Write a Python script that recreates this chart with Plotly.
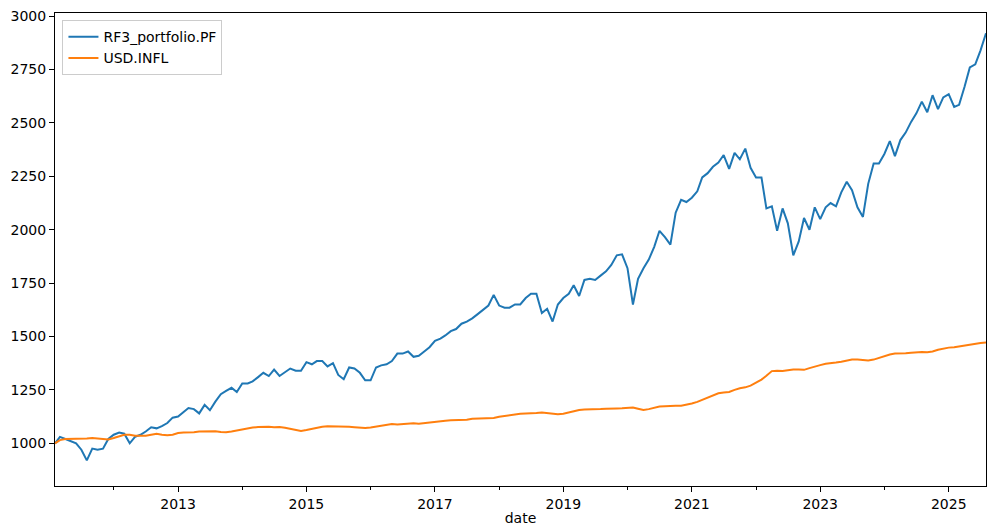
import pandas as pd
import plotly.graph_objects as go

dates = pd.date_range("2011-02-01", "2025-08-01", freq="MS")

portfolio = [
 1000, 1030, 1020, 1010, 1000, 970, 920, 975, 970, 975, 1020,
 1040, 1050, 1045, 1000, 1030, 1040, 1055, 1075, 1070, 1080, 1095, 1120,
 1125, 1145, 1165, 1160, 1140, 1180, 1155, 1195, 1230, 1245, 1260, 1240,
 1280, 1280, 1290, 1310, 1330, 1315, 1345, 1315, 1335, 1350, 1340, 1340,
 1380, 1370, 1385, 1385, 1360, 1375, 1320, 1300, 1355, 1350, 1330, 1295,
 1295, 1355, 1365, 1370, 1385, 1420, 1420, 1430, 1405, 1410, 1430, 1450,
 1480, 1490, 1505, 1525, 1535, 1560, 1570, 1585, 1605, 1625, 1645, 1695,
 1645, 1635, 1635, 1650, 1650, 1680, 1700, 1700, 1610, 1630, 1570, 1650,
 1680, 1700, 1740, 1690, 1765, 1770, 1765, 1785, 1805, 1835, 1880, 1885,
 1820, 1650, 1770, 1820, 1860, 1920, 1995, 1965, 1930, 2080, 2140, 2130,
 2150, 2180, 2245, 2265, 2295, 2315, 2350, 2285, 2360, 2330, 2380, 2290,
 2245, 2245, 2100, 2110, 1995, 2100, 2030, 1880, 1945, 2055, 2000, 2105,
 2050, 2105, 2125, 2110, 2175, 2225, 2185, 2105, 2060, 2215, 2310, 2310,
 2355, 2415, 2345, 2420, 2455, 2505, 2545, 2600, 2550, 2630, 2565, 2620,
 2635, 2575, 2585, 2670, 2760, 2775, 2840, 2920]

inflation = [
 1000, 1015, 1020, 1020, 1020, 1022, 1023, 1025, 1022, 1020, 1018,
 1025, 1032, 1040, 1040, 1035, 1035, 1035, 1040, 1045, 1040, 1038, 1040,
 1048, 1050, 1050, 1052, 1055, 1056, 1058, 1056, 1053, 1052, 1055, 1060,
 1066, 1070, 1074, 1076, 1078, 1077, 1075, 1076, 1073, 1068, 1062, 1058,
 1062, 1068, 1072, 1077, 1080, 1080, 1078, 1077, 1077, 1075, 1072, 1072,
 1074, 1078, 1082, 1088, 1090, 1088, 1090, 1092, 1094, 1092, 1095, 1100,
 1102, 1104, 1106, 1108, 1108, 1108, 1110, 1115, 1116, 1116, 1116, 1118,
 1124, 1128, 1132, 1136, 1138, 1140, 1140, 1142, 1144, 1142, 1137, 1136,
 1138, 1144, 1150, 1156, 1158, 1158, 1160, 1160, 1162, 1164, 1163, 1164,
 1166, 1168, 1162, 1156, 1160, 1168, 1172, 1174, 1176, 1176, 1176, 1180,
 1186, 1194, 1204, 1214, 1226, 1234, 1238, 1240, 1250, 1258, 1262, 1270,
 1284, 1298, 1316, 1338, 1340, 1338, 1342, 1346, 1346, 1344, 1352, 1360,
 1366, 1372, 1374, 1378, 1382, 1388, 1392, 1392, 1390, 1388, 1392, 1400,
 1410, 1416, 1420, 1420, 1422, 1424, 1426, 1428, 1426, 1430, 1438, 1444,
 1448, 1450, 1454, 1458, 1462, 1466, 1470, 1472]

tick_years = ["2013", "2015", "2017", "2019", "2021", "2023", "2025"]

fig = go.Figure()
fig.add_trace(go.Scatter(x=dates, y=portfolio, mode="lines", name="RF3_portfolio.PF",
                         line=dict(color="#1f77b4", width=2)))
fig.add_trace(go.Scatter(x=dates, y=inflation, mode="lines", name="USD.INFL",
                         line=dict(color="#ff7f0e", width=2)))

fig.update_layout(
    width=994, height=528,
    margin=dict(l=55, r=8, t=13, b=42),
    paper_bgcolor="white", plot_bgcolor="white",
    font=dict(family="DejaVu Sans", size=13, color="black"),
    showlegend=True,
    legend=dict(x=0.008, y=0.985, xanchor="left", yanchor="top",
                bordercolor="#cccccc", borderwidth=1, bgcolor="rgba(255,255,255,0.8)",
                font=dict(size=14)),
    xaxis=dict(range=[dates[0], dates[-1]], showgrid=False, zeroline=False, automargin=False,
               showline=True, linecolor="black", mirror=True, linewidth=1,
               ticks="outside", ticklen=5, tickcolor="black", tickfont=dict(size=14),
               tickvals=[pd.Timestamp(y + "-01-01") for y in tick_years],
               ticktext=tick_years,
               minor=dict(ticks="outside", ticklen=3, tickcolor="black",
                          tickvals=[pd.Timestamp(f"{y}-01-01") for y in range(2012, 2026, 2)]),
               title=dict(text="date", standoff=2, font=dict(size=14))),
    yaxis=dict(range=[800, 3015], showgrid=False, zeroline=False, automargin=False,
               showline=True, linecolor="black", mirror=True, linewidth=1,
               ticks="outside", ticklen=5, tickcolor="black", tickfont=dict(size=14),
               tickvals=list(range(1000, 3001, 250))),
)

fig.write_html("out.html", config={"displayModeBar": False})
with open("out.html", encoding="utf-8") as f:
    html = f.read()
html = html.replace("<head>", "<head><style>html,body{margin:0;padding:0;overflow:hidden}</style>", 1)
with open("out.html", "w", encoding="utf-8") as f:
    f.write(html)
